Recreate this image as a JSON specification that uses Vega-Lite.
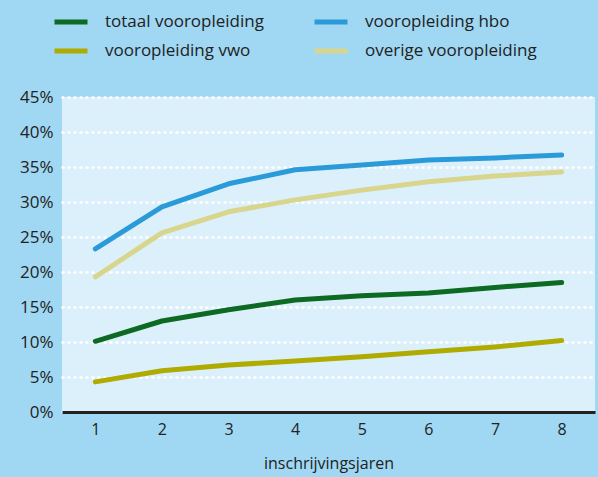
{
  "$schema": "https://vega.github.io/schema/vega-lite/v6.json",
  "autosize": {"type": "none"},
  "width": 533,
  "height": 315,
  "padding": {"left": 62, "top": 97, "right": 3, "bottom": 65},
  "background": "#a0d7f3",
  "config": {
    "view": {"fill": "#dcf0fc", "stroke": null},
    "font": "Open Sans"
  },
  "data": {
    "values": [
      {"jaar": 1, "serie": "totaal vooropleiding", "pct": 0.101},
      {"jaar": 2, "serie": "totaal vooropleiding", "pct": 0.130},
      {"jaar": 3, "serie": "totaal vooropleiding", "pct": 0.146},
      {"jaar": 4, "serie": "totaal vooropleiding", "pct": 0.160},
      {"jaar": 5, "serie": "totaal vooropleiding", "pct": 0.166},
      {"jaar": 6, "serie": "totaal vooropleiding", "pct": 0.170},
      {"jaar": 7, "serie": "totaal vooropleiding", "pct": 0.178},
      {"jaar": 8, "serie": "totaal vooropleiding", "pct": 0.185},
      {"jaar": 1, "serie": "vooropleiding hbo", "pct": 0.233},
      {"jaar": 2, "serie": "vooropleiding hbo", "pct": 0.293},
      {"jaar": 3, "serie": "vooropleiding hbo", "pct": 0.326},
      {"jaar": 4, "serie": "vooropleiding hbo", "pct": 0.346},
      {"jaar": 5, "serie": "vooropleiding hbo", "pct": 0.353},
      {"jaar": 6, "serie": "vooropleiding hbo", "pct": 0.360},
      {"jaar": 7, "serie": "vooropleiding hbo", "pct": 0.363},
      {"jaar": 8, "serie": "vooropleiding hbo", "pct": 0.367},
      {"jaar": 1, "serie": "vooropleiding vwo", "pct": 0.043},
      {"jaar": 2, "serie": "vooropleiding vwo", "pct": 0.059},
      {"jaar": 3, "serie": "vooropleiding vwo", "pct": 0.067},
      {"jaar": 4, "serie": "vooropleiding vwo", "pct": 0.073},
      {"jaar": 5, "serie": "vooropleiding vwo", "pct": 0.079},
      {"jaar": 6, "serie": "vooropleiding vwo", "pct": 0.086},
      {"jaar": 7, "serie": "vooropleiding vwo", "pct": 0.093},
      {"jaar": 8, "serie": "vooropleiding vwo", "pct": 0.102},
      {"jaar": 1, "serie": "overige vooropleiding", "pct": 0.193},
      {"jaar": 2, "serie": "overige vooropleiding", "pct": 0.256},
      {"jaar": 3, "serie": "overige vooropleiding", "pct": 0.286},
      {"jaar": 4, "serie": "overige vooropleiding", "pct": 0.303},
      {"jaar": 5, "serie": "overige vooropleiding", "pct": 0.317},
      {"jaar": 6, "serie": "overige vooropleiding", "pct": 0.329},
      {"jaar": 7, "serie": "overige vooropleiding", "pct": 0.337},
      {"jaar": 8, "serie": "overige vooropleiding", "pct": 0.343}
    ]
  },
  "mark": {"type": "line", "strokeWidth": 5, "strokeCap": "round", "strokeJoin": "round"},
  "encoding": {
    "x": {
      "field": "jaar", "type": "quantitative",
      "scale": {"domain": [0.5, 8.5], "nice": false, "zero": false},
      "axis": {
        "values": [1, 2, 3, 4, 5, 6, 7, 8],
        "title": "inschrijvingsjaren",
        "titleFont": "Open Sans", "titleFontSize": 16, "titleFontWeight": "normal", "titleColor": "#222",
        "titlePadding": 18,
        "labelFontSize": 16, "labelColor": "#222", "labelPadding": 9,
        "ticks": false, "grid": false,
        "domain": true, "domainColor": "#222", "domainWidth": 3
      }
    },
    "y": {
      "field": "pct", "type": "quantitative",
      "scale": {"domain": [0, 0.45], "nice": false},
      "axis": {
        "values": [0, 0.05, 0.1, 0.15, 0.2, 0.25, 0.3, 0.35, 0.4, 0.45],
        "format": ".0%",
        "title": null,
        "labelFontSize": 17, "labelColor": "#222", "labelPadding": 9,
        "ticks": false, "domain": false,
        "grid": true, "gridColor": "#ffffff", "gridWidth": 2.5, "gridDash": [1, 5], "gridCap": "round"
      }
    },
    "color": {
      "field": "serie", "type": "nominal",
      "scale": {
        "domain": ["totaal vooropleiding", "vooropleiding hbo", "vooropleiding vwo", "overige vooropleiding"],
        "range": ["#0d6a22", "#2a9bd8", "#b0ab00", "#d8d58c"]
      },
      "legend": {
        "title": null,
        "orient": "none",
        "legendX": -10,
        "legendY": -94,
        "direction": "horizontal",
        "columns": 2,
        "columnPadding": 40,
        "rowPadding": -2,
        "symbolType": "stroke",
        "symbolSize": 1089,
        "symbolStrokeWidth": 5,
        "labelFontSize": 17,
        "labelColor": "#222",
        "labelOffset": 15,
        "labelLimit": 300
      }
    }
  }
}
